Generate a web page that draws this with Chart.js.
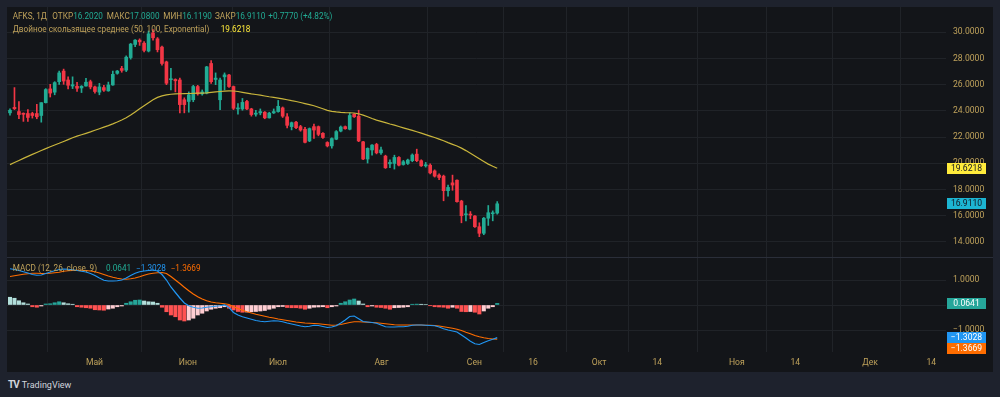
<!DOCTYPE html>
<html><head><meta charset="utf-8">
<script src="https://cdn.jsdelivr.net/npm/chart.js@4.4.1/dist/chart.umd.min.js"></script>
<style>
html,body{margin:0;padding:0;background:#1e222d;width:1000px;height:397px;overflow:hidden;font-family:Roboto,"Noto Sans",sans-serif;}
#panel{position:absolute;left:7px;top:7px;width:986px;height:365px;background:#131519;}
#c{position:absolute;left:0;top:0;}
.t{position:absolute;white-space:nowrap;font-size:8.2px;line-height:10px;color:#bfa25b;}
.v{color:#22ab94}
.y{color:#ffeb3b}
.b{color:#2196f3}
.o{color:#ff6d00}
#logo{position:absolute;left:8px;top:379px;font-size:9px;line-height:11px;color:#d1d4dc;white-space:nowrap;}
#logo b{font-size:10px;letter-spacing:-1px;margin-right:3px;}
</style></head>
<body>
<div id="panel"><canvas id="c" width="986" height="365"></canvas></div>
<div class="t" style="left:12.7px;top:11px">AFKS, 1Д</div>
<div class="t" style="left:52.3px;top:11px">ОТКР<span class="v">16.2020</span></div>
<div class="t" style="left:106.7px;top:11px">МАКС<span class="v">17.0800</span></div>
<div class="t" style="left:163.3px;top:11px">МИН<span class="v">16.1190</span></div>
<div class="t" style="left:215px;top:11px">ЗАКР<span class="v">16.9110</span></div>
<div class="t v" style="left:268.3px;top:11px">+0.7770 (+4.82%)</div>
<div class="t" style="left:12.7px;top:24.3px">Двойное скользящее среднее (50, 100, Exponential)</div>
<div class="t y" style="left:220.7px;top:24.3px">19.6218</div>
<div class="t" style="left:12.7px;top:263.3px">MACD (12, 26, close, 9)</div>
<div class="t v" style="left:106px;top:263.3px">0.0641</div>
<div class="t b" style="left:136px;top:263.3px">−1.3028</div>
<div class="t o" style="left:170.7px;top:263.3px">−1.3669</div>
<div id="logo"><b>TV</b>TradingView</div>
<script>
// ---- data ----
const opens  = [23.85,24.27,23.95,23.82,23.80,23.80,23.80,23.65,24.63,25.68,25.43,26.23,27.04,26.36,25.90,25.88,25.75,25.90,26.23,25.83,25.43,25.78,25.53,25.98,26.87,27.24,27.11,28.07,29.07,29.40,29.17,28.57,29.95,29.50,28.87,27.74,26.38,26.40,26.36,24.85,24.72,24.85,25.86,25.30,25.36,27.62,26.40,24.85,26.60,26.74,25.86,24.15,24.15,24.72,24.15,23.75,23.85,23.90,23.47,23.85,23.95,24.23,23.55,22.80,23.14,22.80,22.60,21.71,22.80,22.80,22.29,21.59,21.33,21.84,22.46,22.80,22.60,23.75,23.60,21.64,20.33,21.02,21.44,20.80,20.55,19.96,19.99,20.45,19.91,19.99,20.20,20.70,20.20,19.81,19.86,19.42,19.10,19.02,17.91,18.51,18.71,17.12,16.07,16.12,15.98,15.16,14.66,15.81,16.15,16.202];
const highs  = [24.15,25.78,24.72,23.85,24.10,23.90,24.50,24.63,25.70,26.03,26.23,27.04,27.19,26.60,26.60,26.19,25.93,26.49,26.35,25.90,26.10,25.95,26.20,27.04,27.09,27.40,28.20,29.15,29.45,29.50,29.30,30.10,30.20,29.60,28.95,27.80,27.24,26.45,26.50,25.00,25.45,25.95,25.95,25.60,27.40,27.85,26.90,26.50,26.90,26.80,25.90,24.55,24.95,24.80,24.20,24.05,24.15,23.95,23.90,24.15,24.80,24.30,23.80,23.15,23.20,22.90,22.75,22.70,23.00,22.85,22.35,21.65,21.95,22.50,22.85,22.85,23.85,23.80,24.05,21.68,21.18,21.43,21.53,21.23,20.62,20.27,20.62,20.52,20.22,20.32,20.72,21.08,20.27,20.07,19.96,19.50,19.20,19.10,18.34,19.10,18.74,17.18,16.78,16.32,16.02,15.46,15.87,16.78,16.37,17.08];
const lows   = [23.67,24.10,23.40,23.20,23.20,23.45,23.40,23.14,24.60,25.06,25.23,26.03,26.03,25.68,25.70,25.48,25.40,25.88,25.68,25.35,25.23,25.48,25.50,25.95,26.80,26.95,27.00,27.95,28.90,29.00,28.50,28.50,29.40,28.50,27.50,26.00,25.60,25.45,23.85,23.85,23.90,24.70,25.20,25.20,25.30,26.10,26.00,24.10,25.60,25.80,24.10,23.75,24.05,24.10,23.60,23.60,23.70,23.40,23.45,23.80,23.90,23.50,22.70,22.55,22.65,22.45,21.55,21.65,21.90,22.10,21.90,21.25,21.15,21.80,22.40,22.60,22.55,23.50,21.65,20.27,20.02,20.62,20.72,20.67,19.61,19.66,19.56,19.81,19.86,19.91,20.12,20.12,19.76,19.71,19.20,18.95,18.75,17.14,17.49,17.94,17.03,15.46,15.61,15.77,15.10,14.40,14.55,15.26,15.61,16.119];
const closes = [24.05,24.17,23.72,23.74,23.50,23.65,23.55,24.63,25.63,25.36,26.16,26.90,26.28,25.96,26.00,25.73,25.88,26.19,25.83,25.48,25.83,25.58,25.98,26.79,27.04,27.09,28.10,29.10,29.40,29.27,28.62,29.88,29.58,28.67,27.62,26.11,26.43,26.30,24.48,24.48,25.23,25.86,25.30,25.45,27.36,26.23,26.50,26.36,26.75,25.86,24.20,24.20,24.65,24.15,23.72,23.83,23.95,23.47,23.83,23.95,24.35,23.60,22.90,23.10,22.72,22.54,21.60,22.65,22.54,22.21,21.97,21.33,21.89,22.42,22.77,22.64,23.65,23.55,21.71,20.33,21.14,21.39,20.80,21.02,19.66,20.07,20.45,19.86,20.12,20.25,20.63,20.20,19.81,19.89,19.27,19.02,18.92,17.91,18.16,18.34,17.07,16.00,16.12,16.05,15.16,14.66,15.81,16.23,16.21,16.911];
const demaValues = [19.90,20.06,20.22,20.38,20.53,20.68,20.83,20.98,21.12,21.26,21.40,21.53,21.67,21.81,21.95,22.07,22.18,22.29,22.40,22.52,22.64,22.76,22.88,23.01,23.15,23.30,23.47,23.68,23.92,24.17,24.40,24.62,24.85,25.03,25.15,25.22,25.27,25.30,25.31,25.32,25.33,25.34,25.35,25.36,25.38,25.42,25.45,25.48,25.51,25.53,25.52,25.48,25.42,25.36,25.30,25.25,25.20,25.14,25.08,25.03,24.98,24.92,24.85,24.78,24.72,24.64,24.56,24.48,24.39,24.28,24.16,24.04,23.96,23.92,23.89,23.87,23.86,23.84,23.78,23.68,23.55,23.42,23.30,23.20,23.10,23.00,22.91,22.81,22.71,22.61,22.51,22.41,22.30,22.19,22.08,21.97,21.85,21.72,21.58,21.45,21.32,21.16,20.97,20.76,20.55,20.34,20.14,19.94,19.77,19.62];
const macdValues = [1.45,1.42,1.38,1.33,1.28,1.22,1.19,1.20,1.26,1.32,1.37,1.42,1.44,1.43,1.41,1.38,1.35,1.32,1.26,1.18,1.08,0.99,0.96,0.96,0.97,1.00,1.08,1.18,1.27,1.33,1.36,1.38,1.40,1.36,1.22,1.00,0.72,0.50,0.28,0.08,-0.03,-0.09,-0.13,-0.12,-0.09,-0.07,-0.05,-0.03,0.00,-0.10,-0.30,-0.40,-0.47,-0.52,-0.57,-0.62,-0.65,-0.67,-0.65,-0.63,-0.64,-0.67,-0.72,-0.76,-0.80,-0.84,-0.87,-0.85,-0.81,-0.82,-0.86,-0.90,-0.88,-0.83,-0.72,-0.60,-0.46,-0.44,-0.55,-0.66,-0.68,-0.70,-0.73,-0.80,-0.87,-0.88,-0.88,-0.87,-0.87,-0.85,-0.81,-0.80,-0.80,-0.81,-0.82,-0.83,-0.88,-0.95,-1.00,-1.04,-1.08,-1.20,-1.32,-1.45,-1.55,-1.58,-1.50,-1.43,-1.37,-1.3028];
const signalValues = [1.14,1.17,1.20,1.23,1.25,1.27,1.27,1.26,1.26,1.27,1.29,1.31,1.35,1.37,1.38,1.39,1.39,1.38,1.36,1.33,1.28,1.22,1.16,1.11,1.07,1.04,1.03,1.05,1.08,1.13,1.19,1.24,1.27,1.29,1.30,1.26,1.14,1.00,0.86,0.71,0.57,0.44,0.33,0.24,0.17,0.12,0.09,0.07,0.05,0.02,-0.07,-0.14,-0.21,-0.27,-0.32,-0.37,-0.41,-0.45,-0.49,-0.52,-0.56,-0.59,-0.62,-0.65,-0.68,-0.70,-0.72,-0.73,-0.74,-0.75,-0.77,-0.79,-0.81,-0.80,-0.78,-0.74,-0.70,-0.67,-0.67,-0.68,-0.69,-0.70,-0.71,-0.73,-0.75,-0.77,-0.79,-0.80,-0.80,-0.80,-0.80,-0.80,-0.80,-0.81,-0.81,-0.82,-0.84,-0.87,-0.90,-0.93,-0.97,-1.02,-1.09,-1.15,-1.22,-1.27,-1.31,-1.34,-1.36,-1.3669];
const histValues = [0.31,0.27,0.17,0.09,0.04,-0.07,-0.09,-0.04,0.04,0.05,0.09,0.13,0.09,0.05,0.03,-0.07,-0.09,-0.11,-0.13,-0.19,-0.20,-0.21,-0.16,-0.13,-0.07,-0.04,0.07,0.13,0.19,0.20,0.16,0.13,0.12,0.07,-0.09,-0.27,-0.40,-0.47,-0.60,-0.64,-0.60,-0.53,-0.40,-0.33,-0.24,-0.17,-0.13,-0.11,-0.07,-0.13,-0.20,-0.26,-0.29,-0.28,-0.27,-0.26,-0.24,-0.22,-0.17,-0.13,-0.07,-0.06,-0.10,-0.11,-0.11,-0.13,-0.17,-0.13,-0.09,-0.08,-0.07,-0.11,-0.07,-0.04,0.07,0.13,0.20,0.24,0.16,0.04,-0.07,-0.04,-0.09,-0.10,-0.13,-0.17,-0.11,-0.10,-0.09,-0.07,0.03,0.035,0.03,0.02,-0.03,-0.07,-0.08,-0.09,-0.13,-0.09,-0.13,-0.26,-0.27,-0.26,-0.29,-0.36,-0.24,-0.13,-0.07,0.0641];
const timeTickPositions = [18.9,39.8,59.96,83.1,103.9,117.0,131.8,144.8,162.6,175.7,192.4,206.1];
const timeTickLabels = ['Май','Июн','Июл','Авг','Сен','16','Окт','14','Ноя','14','Дек','14'];
const priceTicks = [14,16,18,20,22,24,26,28,30];
const macdTicks = [-1,0,1];
const lastPrice = 16.911, lastDema = 19.6218, lastMacd = -1.3028, lastSignal = -1.3669, lastHist = 0.0641;

// ---- styles ----
const UP='#22ab94', DOWN='#f23645', GOLD='#bfa25b', GRID='#202328';
const idx = opens.map((_,i)=>i);
const candleColors = idx.map(i=>closes[i]>=opens[i]?UP:DOWN);
const histColors = histValues.map((v,i)=>{
  const p = i>0?histValues[i-1]:Infinity;
  if (v>=0) return v>p?'#26a69a':'#b2dfdb';
  return v>p?'#ffcdd2':'#ff5252';
});
const tickFont = {family:'Roboto', size:8.6};
const noPad = s => { s.paddingTop=0; s.paddingBottom=0; s.paddingLeft=0; s.paddingRight=0; };

const overlay = {
  id:'overlay',
  afterDraw(chart){
    const ctx=chart.ctx, ys=chart.scales.y, y2=chart.scales.y2, a=chart.chartArea;
    ctx.save();
    ctx.strokeStyle='#2a2e39'; ctx.lineWidth=1;
    ctx.beginPath(); ctx.moveTo(0, Math.round(ys.bottom)+0.5); ctx.lineTo(chart.width, Math.round(ys.bottom)+0.5); ctx.stroke();
    function box(yp, bg, fg, text){
      const x0=a.right+1, w=39, h=11;
      ctx.fillStyle=bg; ctx.fillRect(x0, Math.round(yp-h/2), w, h);
      ctx.fillStyle=fg; ctx.font='8.6px Roboto'; ctx.textAlign='center'; ctx.textBaseline='middle';
      ctx.fillText(text, x0+w/2, Math.round(yp-h/2)+h/2+0.5);
    }
    box(ys.getPixelForValue(lastDema), '#ffeb3b', '#131722', lastDema.toFixed(4));
    box(ys.getPixelForValue(lastPrice), '#1cb5d2', '#131722', lastPrice.toFixed(4));
    box(y2.getPixelForValue(lastHist), '#26a69a', '#ffffff', lastHist.toFixed(4));
    const by = y2.getPixelForValue(lastMacd);
    box(by, '#2196f3', '#ffffff', '\u2212'+Math.abs(lastMacd).toFixed(4));
    const oy = Math.max(y2.getPixelForValue(lastSignal), by+11);
    box(oy, '#ff6d00', '#ffffff', '\u2212'+Math.abs(lastSignal).toFixed(4));
    ctx.restore();
  }
};

const fmt = v => (v<0?'\u2212':'')+Math.abs(v).toFixed(4);

new Chart(document.getElementById('c'), {
  type:'bar',
  data:{datasets:[
    {type:'line', label:'DEMA', data:idx.map(i=>({x:i,y:demaValues[i]})), yAxisID:'y', borderColor:'#c9b53c', borderWidth:1.2, pointRadius:0, tension:0, order:0},
    {type:'bar', label:'bodies', data:idx.map(i=>({x:i,y:[opens[i],closes[i]]})), yAxisID:'y', backgroundColor:candleColors, barThickness:3, minBarLength:1, grouped:false, order:1},
    {type:'bar', label:'wicks', data:idx.map(i=>({x:i,y:[lows[i],highs[i]]})), yAxisID:'y', backgroundColor:candleColors, barThickness:1, grouped:false, order:2},
    {type:'line', label:'MACD', data:idx.map(i=>({x:i,y:macdValues[i]})), yAxisID:'y2', borderColor:'#2196f3', borderWidth:1.2, pointRadius:0, tension:0, order:0},
    {type:'line', label:'Signal', data:idx.map(i=>({x:i,y:signalValues[i]})), yAxisID:'y2', borderColor:'#ff6d00', borderWidth:1.2, pointRadius:0, tension:0, order:0},
    {type:'bar', label:'Hist', data:idx.map(i=>({x:i,y:histValues[i]})), yAxisID:'y2', backgroundColor:histColors, barThickness:3.4, grouped:false, order:3}
  ]},
  options:{
    responsive:false, animation:false, devicePixelRatio:1,
    layout:{padding:0},
    plugins:{legend:{display:false}, tooltip:{enabled:false}},
    scales:{
      x:{type:'linear', min:-0.67, max:209.4, offset:false,
         grid:{color:GRID, drawTicks:false}, border:{display:false},
         ticks:{color:GOLD, font:tickFont, padding:6, maxRotation:0, autoSkip:false, callback:(v,i)=>timeTickLabels[i]},
         afterBuildTicks:s=>{s.ticks=timeTickPositions.map(v=>({value:v}));},
         afterFit:s=>{s.height=20; noPad(s);}},
      y:{type:'linear', position:'right', stack:'panes', stackWeight:250, min:12.85, max:31.93,
         grid:{color:GRID, drawTicks:false}, border:{display:false},
         ticks:{color:GOLD, font:tickFont, padding:7, callback:fmt},
         afterBuildTicks:s=>{s.ticks=priceTicks.map(v=>({value:v}));},
         afterFit:s=>{s.width=47; noPad(s);}},
      y2:{type:'linear', position:'right', stack:'panes', stackWeight:95, min:-1.88, max:1.92,
         grid:{color:GRID, drawTicks:false}, border:{display:false},
         ticks:{color:GOLD, font:tickFont, padding:7, callback:fmt},
         afterBuildTicks:s=>{s.ticks=macdTicks.map(v=>({value:v}));},
         afterFit:s=>{s.width=47; noPad(s);}}
    }
  },
  plugins:[overlay]
});
</script>
</body></html>
